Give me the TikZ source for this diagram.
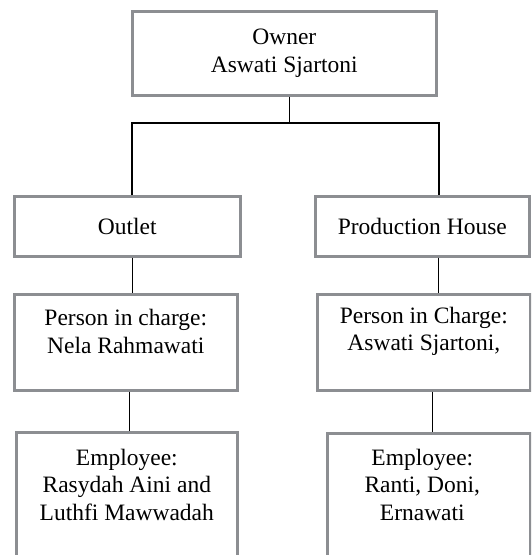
\documentclass[tikz,border=0pt]{standalone}
\usepackage{fontspec}
\setmainfont{Liberation Serif}
\usetikzlibrary{calc}
\definecolor{framegray}{RGB}{140,142,146}
\begin{document}
\begin{tikzpicture}[x=1pt,y=-1pt,
  box/.style={draw=framegray, line width=2.6pt, fill=white, inner sep=0pt,
              anchor=north west, align=center,
              font=\fontsize{23.5}{27.5}\selectfont},
  lbl/.style={inner sep=0pt, align=center, font=\fontsize{23.5}{27.5}\selectfont},
  link/.style={draw=black, line width=1.3pt}]
\useasboundingbox (0,0) rectangle (531,555);
\clip (0,0) rectangle (531,555);

% boxes, placed by their top-left corners
\node[box, minimum width=304pt, minimum height=84pt] (owner) at (131,10) {Owner\\Aswati Sjartoni};
\node[box, minimum width=226pt, minimum height=60pt] (outlet) at (13,195) {Outlet};
\node[box, minimum width=214pt, minimum height=60pt] (prod) at (314,195) {Production House};
\node[box, minimum width=223pt, minimum height=96pt] (pic1) at (13,293) {};
\node[box, minimum width=213pt, minimum height=96pt] (pic2) at (316,293) {};
\node[box, minimum width=221pt, minimum height=150pt] (emp1) at (15,431) {};
\node[box, minimum width=203pt, minimum height=150pt] (emp2) at (326,432) {};

% texts set near the top of the taller boxes
\node[lbl] (pic1text) at ($(pic1.north)+(0,38.5)$) {Person in charge:\\Nela Rahmawati};
\node[lbl] (pic2text) at ($(pic2.north)+(0,38.5)$) {Person in Charge:\\Aswati Sjartoni,};
\node[lbl] (emp1text) at ($(emp1.north)+(0,53.5)$) {Employee:\\Rasydah Aini and\\Luthfi Mawwadah};
\node[lbl] (emp2text) at ($(emp2.north)+(-6.5,52.5)$) {Employee:\\Ranti, Doni,\\Ernawati};

% connector points
\coordinate (busL) at (132,123);
\coordinate (busR) at (439,123);
\coordinate (ownerdrop) at ($(owner.south)+(5,0)$);
\coordinate (outletdrop) at ($(outlet.south)+(5,0)$);
\coordinate (pic1drop) at ($(pic1.south)+(3.5,0)$);
\coordinate (proddrop) at ($(prod.south)+(16,0)$);
\coordinate (pic2drop) at ($(pic2.south)+(8.5,0)$);

% connectors
\draw[link] (ownerdrop) -- (ownerdrop |- busL);
\draw[link] (outlet.north -| busL) -- (busL) -- (busR) -- (prod.north -| busR);
\draw[link] (outletdrop) -- (outletdrop |- pic1.north);
\draw[link] (pic1drop) -- (pic1drop |- emp1.north);
\draw[link] (proddrop) -- (proddrop |- pic2.north);
\draw[link] (pic2drop) -- (pic2drop |- emp2.north);
\end{tikzpicture}
\end{document}
